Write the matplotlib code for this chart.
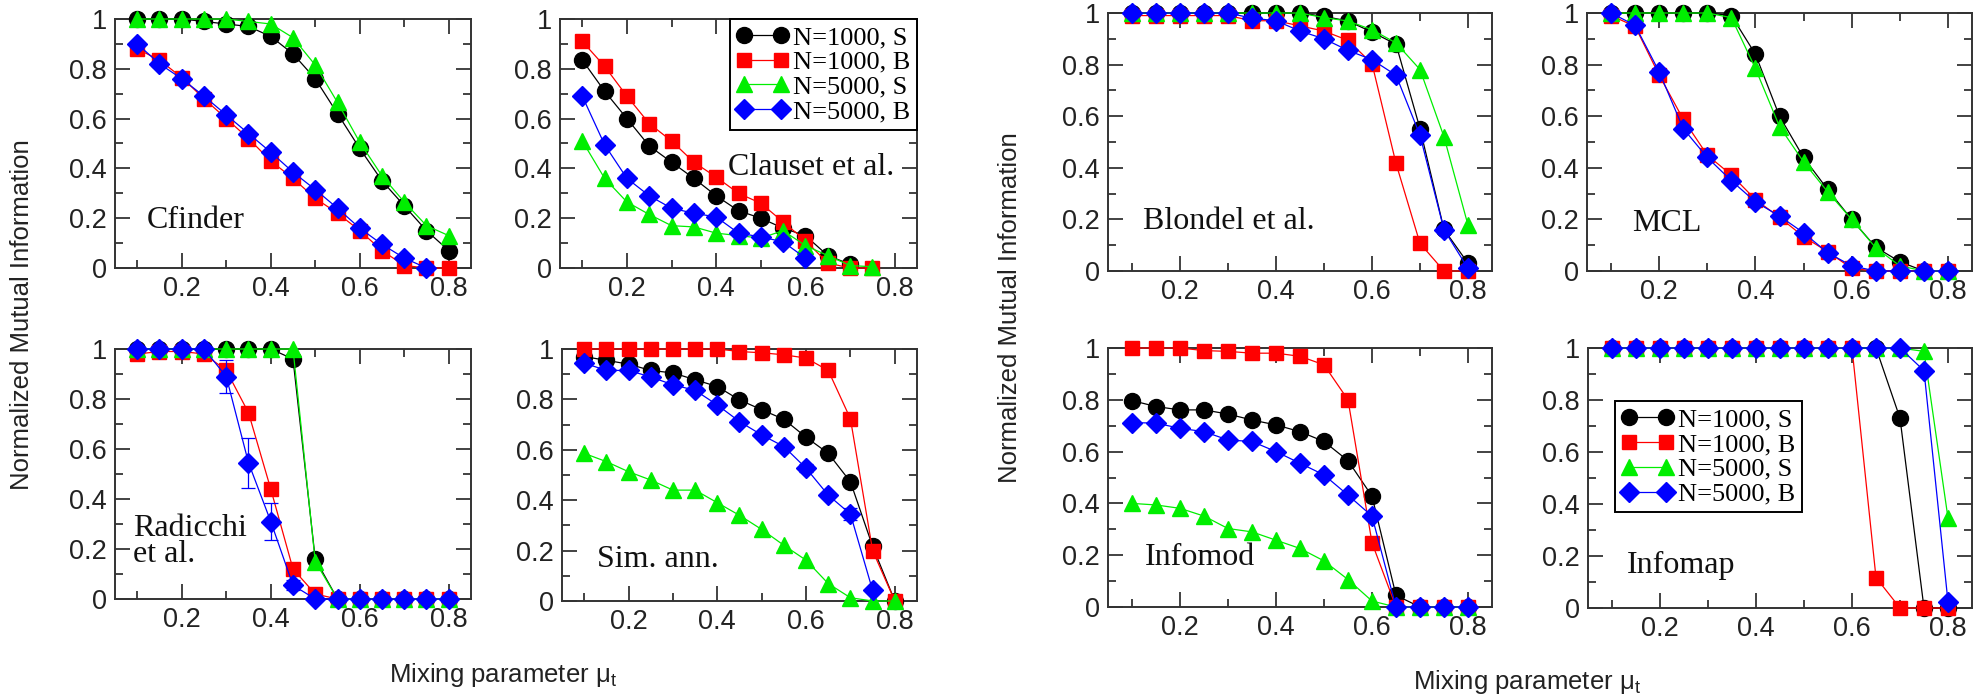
import numpy as np
import matplotlib
matplotlib.use("Agg")
import matplotlib.pyplot as plt
from matplotlib.ticker import MultipleLocator, FixedLocator, FuncFormatter

plt.rcParams['font.family'] = ['Liberation Sans', 'DejaVu Sans']
plt.rcParams['mathtext.fontset'] = 'custom'
plt.rcParams['mathtext.rm'] = 'Liberation Sans'
plt.rcParams['mathtext.it'] = 'Liberation Sans'

mu = [0.1, 0.15, 0.2, 0.25, 0.3, 0.35, 0.4, 0.45, 0.5, 0.55, 0.6, 0.65, 0.7, 0.75, 0.8]
series_labels = ["N=1000, S", "N=1000, B", "N=5000, S", "N=5000, B"]
nan = np.nan

# Cfinder
cfinder_s1000 = [1, 1, 1, 0.99, 0.98, 0.97, 0.93, 0.86, 0.76, 0.62, 0.48, 0.35, 0.25, 0.15, 0.07]
cfinder_b1000 = [0.88, 0.835, 0.765, 0.68, 0.60, 0.52, 0.43, 0.36, 0.28, 0.22, 0.15, 0.07, 0.01, 0.0, 0.0]
cfinder_s5000 = [1, 1, 1, 1, 1, 0.99, 0.98, 0.925, 0.815, 0.665, 0.505, 0.37, 0.265, 0.17, 0.13]
cfinder_b5000 = [0.90, 0.82, 0.76, 0.69, 0.615, 0.54, 0.465, 0.385, 0.315, 0.24, 0.16, 0.095, 0.04, 0.0, nan]

# Clauset et al.
clauset_s1000 = [0.835, 0.71, 0.60, 0.49, 0.425, 0.36, 0.29, 0.23, 0.20, 0.16, 0.13, 0.05, 0.015, nan, nan]
clauset_b1000 = [0.91, 0.81, 0.69, 0.58, 0.51, 0.425, 0.365, 0.30, 0.26, 0.185, 0.11, 0.02, 0.0, 0.0, nan]
clauset_s5000 = [0.51, 0.36, 0.265, 0.215, 0.17, 0.165, 0.14, 0.13, 0.12, 0.15, 0.09, 0.05, 0.01, 0.005, nan]
clauset_b5000 = [0.69, 0.495, 0.36, 0.29, 0.24, 0.22, 0.205, 0.14, 0.125, 0.105, 0.04, nan, nan, nan, nan]

# Radicchi et al.
radicchi_s1000 = [1, 1, 1, 1, 1, 1, 1, 0.96, 0.16, 0, 0, 0, 0, 0, 0]
radicchi_b1000 = [0.98, 0.99, 0.99, 0.98, 0.915, 0.745, 0.44, 0.12, 0.02, 0, 0, 0, 0, 0, 0]
radicchi_s5000 = [1, 1, 1, 1, 1, 1, 1, 1, 0.15, 0, 0, 0, 0, 0, 0]
radicchi_b5000 = [1, 1, 1, 1, 0.89, 0.545, 0.31, 0.055, 0, 0, 0, 0, 0, 0, 0]
radicchi_b5000_err = [0, 0, 0, 0, 0.065, 0.1, 0.075, 0.02, 0, 0, 0, 0, 0, 0, 0]

# Simulated annealing
simann_s1000 = [0.97, 0.955, 0.94, 0.915, 0.905, 0.878, 0.851, 0.798, 0.759, 0.721, 0.65, 0.586, 0.473, 0.217, 0.0]
simann_b1000 = [1, 1, 1, 1, 1, 1, 1, 0.99, 0.985, 0.977, 0.964, 0.915, 0.723, 0.20, 0.0]
simann_s5000 = [0.586, 0.553, 0.513, 0.48, 0.44, 0.44, 0.39, 0.34, 0.284, 0.221, 0.162, 0.069, 0.013, 0.0, 0.0]
simann_b5000 = [0.944, 0.915, 0.915, 0.889, 0.858, 0.836, 0.778, 0.712, 0.659, 0.613, 0.527, 0.42, 0.345, 0.042, nan]
simann_b5000_err = [0, 0, 0.01, 0, 0, 0.01, 0, 0.01, 0, 0.01, 0.015, 0.01, 0.025, 0, 0]

# Blondel et al.
blondel_s1000 = [1, 1, 1, 1, 1, 1, 1, 1, 0.987, 0.969, 0.926, 0.879, 0.552, 0.161, 0.03]
blondel_b1000 = [0.99, 0.99, 0.99, 0.99, 0.99, 0.97, 0.97, 0.95, 0.93, 0.894, 0.804, 0.417, 0.107, 0.0, 0.0]
blondel_s5000 = [1, 1, 1, 1, 1, 1, 1, 1, 0.982, 0.969, 0.935, 0.884, 0.781, 0.52, 0.178]
blondel_b5000 = [1, 1, 1, 1, 1, 0.98, 0.97, 0.93, 0.90, 0.855, 0.819, 0.759, 0.526, 0.16, 0.01]

# MCL
mcl_s1000 = [1, 1, 1, 1, 1, 0.99, 0.84, 0.60, 0.44, 0.316, 0.20, 0.092, 0.036, 0.0, 0.0]
mcl_b1000 = [0.99, 0.948, 0.759, 0.588, 0.449, 0.372, 0.277, 0.208, 0.133, 0.075, 0.01, 0.0, 0.0, 0.0, 0.0]
mcl_s5000 = [1, 1, 1, 1, 1, 0.982, 0.785, 0.56, 0.423, 0.307, 0.20, 0.09, 0.02, 0.0, 0.0]
mcl_b5000 = [1, 0.952, 0.772, 0.552, 0.44, 0.35, 0.268, 0.213, 0.148, 0.071, 0.02, 0.0, 0.0, 0.0, 0.0]

# Infomod
infomod_s1000 = [0.797, 0.774, 0.761, 0.761, 0.745, 0.722, 0.703, 0.677, 0.639, 0.565, 0.428, 0.045, 0.0, 0.0, 0.0]
infomod_b1000 = [1, 1, 1, 0.99, 0.987, 0.98, 0.98, 0.968, 0.935, 0.80, 0.248, 0.0, 0.0, 0.0, 0.0]
infomod_s5000 = [0.40, 0.394, 0.381, 0.351, 0.303, 0.29, 0.258, 0.226, 0.178, 0.106, 0.023, 0.0, 0.0, 0.0, 0.0]
infomod_b5000 = [0.712, 0.71, 0.69, 0.677, 0.645, 0.639, 0.60, 0.555, 0.51, 0.432, 0.351, 0.0, 0.0, 0.0, 0.0]

# Infomap
infomap_s1000 = [1, 1, 1, 1, 1, 1, 1, 1, 1, 1, 1, 1, 0.73, 0.0, 0.0]
infomap_b1000 = [1, 1, 1, 1, 1, 1, 1, 1, 1, 1, 1, 0.117, 0.0, 0.0, 0.0]
infomap_s5000 = [1, 1, 1, 1, 1, 1, 1, 1, 1, 1, 1, 1, 1, 0.987, 0.346]
infomap_b5000 = [1, 1, 1, 1, 1, 1, 1, 1, 1, 1, 1, 1, 1, 0.913, 0.023]

colors = ["black", "#ff0000", "#00ee00", "#0000ff"]
markers = ["o", "s", "^", "D"]
msizes = [11.5, 10.5, 11, 10]

# figure-pixel boxes (left, top, right, bottom)
W, H = 1981, 700
boxes = [
    (115, 19, 471, 268), (560, 19, 917, 268),
    (115, 349, 471, 599), (562, 349, 917, 601),
    (1108, 13, 1492, 271), (1587, 13, 1972, 271),
    (1108, 348, 1492, 607), (1588, 348, 1972, 608),
]
panels = [
    ("Cfinder", [cfinder_s1000, cfinder_b1000, cfinder_s5000, cfinder_b5000], (0.09, 0.19)),
    ("Clauset et al.", [clauset_s1000, clauset_b1000, clauset_s5000, clauset_b5000], (0.47, 0.405)),
    ("Radicchi\net al.", [radicchi_s1000, radicchi_b1000, radicchi_s5000, radicchi_b5000], (0.05, 0.23)),
    ("Sim. ann.", [simann_s1000, simann_b1000, simann_s5000, simann_b5000], (0.1, 0.163)),
    ("Blondel et al.", [blondel_s1000, blondel_b1000, blondel_s5000, blondel_b5000], (0.09, 0.19)),
    ("MCL", [mcl_s1000, mcl_b1000, mcl_s5000, mcl_b5000], (0.117, 0.186)),
    ("Infomod", [infomod_s1000, infomod_b1000, infomod_s5000, infomod_b5000], (0.096, 0.19)),
    ("Infomap", [infomap_s1000, infomap_b1000, infomap_s5000, infomap_b5000], (0.10, 0.165)),
]
errors = {2: radicchi_b5000_err, 3: simann_b5000_err}

fig = plt.figure(figsize=(W / 100, H / 100), dpi=100)
serif = ['Liberation Serif', 'DejaVu Serif']
axes = []
for i, ((name, ys, tpos), (l, t, r, b)) in enumerate(zip(panels, boxes)):
    ax = fig.add_axes([l / W, 1 - b / H, (r - l) / W, (b - t) / H])
    axes.append(ax)
    for j, y in enumerate(ys):
        ax.plot(mu, y, color=colors[j], marker=markers[j], ms=msizes[j], lw=0.9,
                mec=colors[j], label=series_labels[j], clip_on=False, zorder=3 + j)
        if j == 3 and i in errors:
            ax.errorbar(mu, y, yerr=errors[i], fmt="none", ecolor=colors[j],
                        elinewidth=0.9, capsize=5, capthick=0.9, zorder=3 + j)
    ax.set_xlim(0.05, 0.85)
    ax.set_ylim(0, 1)
    ax.xaxis.set_major_locator(FixedLocator([0.2, 0.4, 0.6, 0.8]))
    ax.xaxis.set_minor_locator(FixedLocator([0.1, 0.3, 0.5, 0.7]))
    ax.yaxis.set_major_locator(MultipleLocator(0.2))
    ax.yaxis.set_minor_locator(MultipleLocator(0.1))
    ax.yaxis.set_major_formatter(FuncFormatter(lambda v, p: "%g" % round(v, 1)))
    ax.xaxis.set_major_formatter(FuncFormatter(lambda v, p: "%g" % round(v, 1)))
    ax.tick_params(which="both", direction="in", top=True, right=True, colors="#222",
                   labelsize=19.5, width=1.2)
    ax.tick_params(which="major", length=11, pad=6)
    ax.tick_params(which="minor", length=6)
    for s in ax.spines.values():
        s.set_linewidth(1.4)
        s.set_color("#333")
    ax.text(tpos[0], tpos[1], name, transform=ax.transAxes, fontsize=23,
            family=serif, va="center", ha="left", linespacing=0.9, color="#111")

for k, loc, anchor in [(1, "upper right", (1.0, 1.0)), (7, "upper left", (0.07, 0.795))]:
    lg = axes[k].legend(loc=loc, bbox_to_anchor=anchor, numpoints=2, fancybox=False,
                        edgecolor="black", framealpha=1, borderaxespad=0,
                        prop={"family": serif, "size": 19}, handlelength=2.0,
                        handletextpad=0.15, labelspacing=0.05, borderpad=0.25)
    lg.get_frame().set_linewidth(1.4)
    lg.set_zorder(10)

fig.text(22 / W, 1 - 315 / H, "Normalized Mutual Information", rotation=90,
         ha="center", va="center", fontsize=18.5, color="#222")
fig.text(1010 / W, 1 - 308 / H, "Normalized Mutual Information", rotation=90,
         ha="center", va="center", fontsize=18.5, color="#222")
fig.text(503 / W, 1 - 675 / H, r"Mixing parameter $\mathregular{\mu_t}$",
         ha="center", va="center", fontsize=18.5, color="#222")
fig.text(1527 / W, 1 - 682 / H, r"Mixing parameter $\mathregular{\mu_t}$",
         ha="center", va="center", fontsize=18.5, color="#222")

fig.savefig("out.png", dpi=100)
